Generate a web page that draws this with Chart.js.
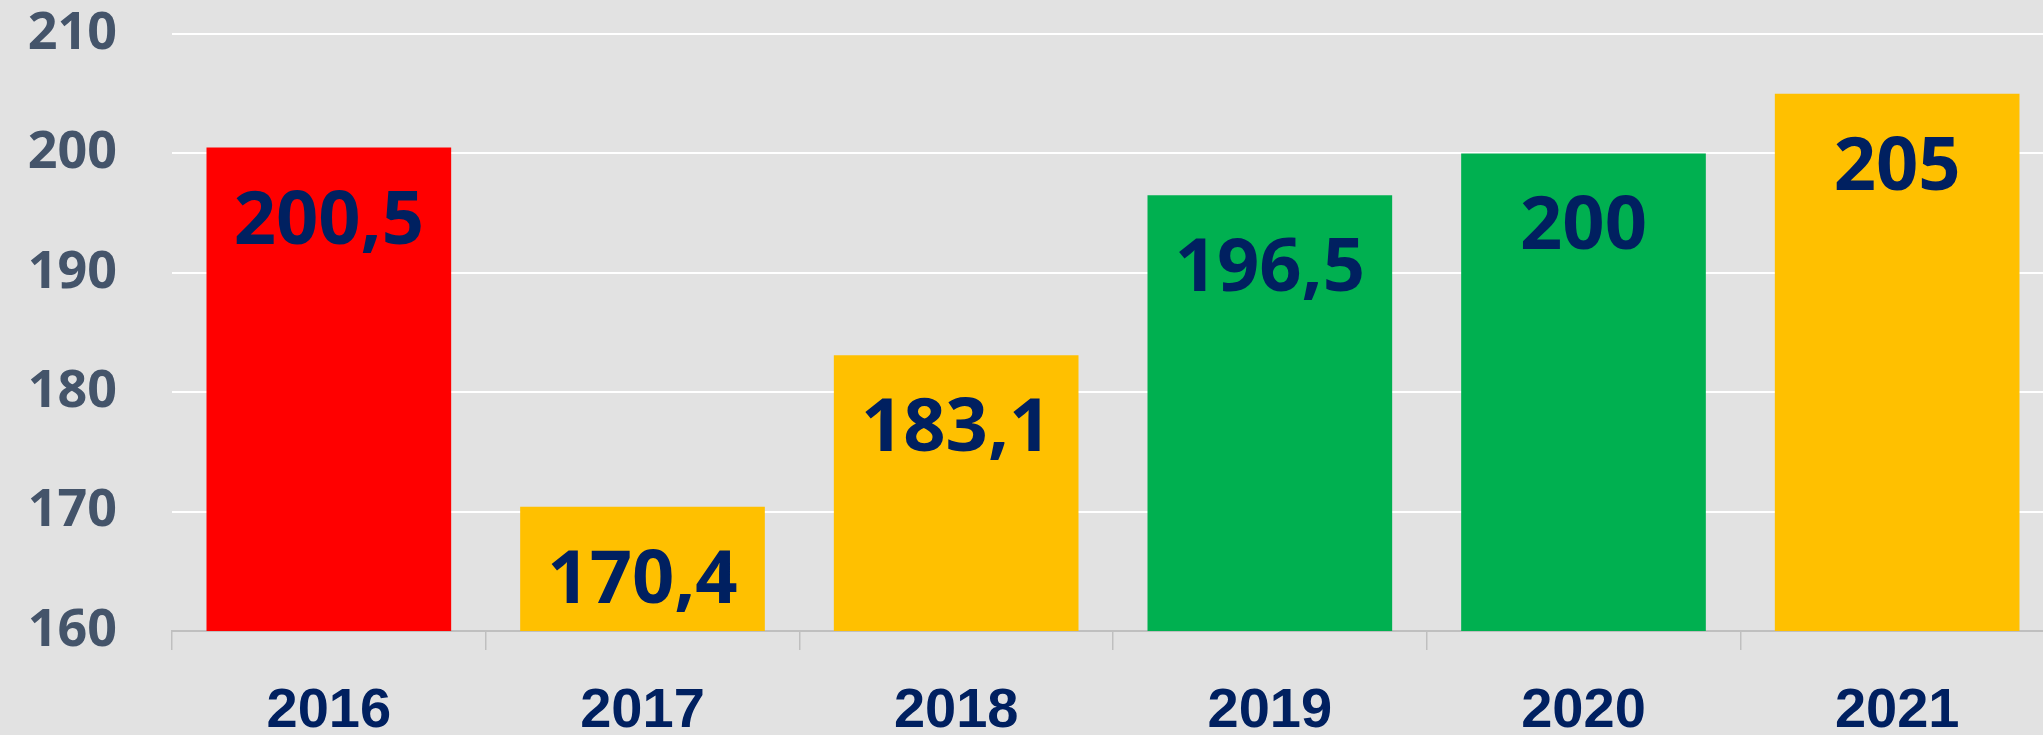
<!DOCTYPE html>
<html>
<head>
<meta charset="utf-8">
<script src="https://cdn.jsdelivr.net/npm/chart.js@4"></script>
<style>
  html, body { margin: 0; padding: 0; background: #e2e2e2; overflow: hidden; }
  canvas { display: block; }
</style>
</head>
<body>
<!-- canvas a bit wider than the window: the last category is cut at the right edge like in the picture -->
<canvas id="myChart" width="2054" height="735"></canvas>
<script>
const years = ['2016', '2017', '2018', '2019', '2020', '2021'];
const values = [200.5, 170.4, 183.1, 196.5, 200, 205];
const barColors = ['#ff0000', '#ffc000', '#ffc000', '#00b050', '#00b050', '#ffc000'];
const yTicks = [160, 170, 180, 190, 200, 210];

// grey page background on the canvas itself
const background = {
  id: 'background',
  beforeDraw(chart) {
    const c = chart.ctx;
    c.save();
    c.fillStyle = '#e2e2e2';
    c.fillRect(0, 0, chart.width, chart.height);
    c.restore();
  }
};

// value labels inside the top of each bar
const barLabels = {
  id: 'barLabels',
  afterDatasetsDraw(chart) {
    const c = chart.ctx;
    const meta = chart.getDatasetMeta(0);
    c.save();
    c.font = 'bold 74px "Open Sans"';
    c.fillStyle = '#002060';
    c.textAlign = 'center';
    c.textBaseline = 'middle';
    meta.data.forEach((bar, i) => {
      const txt = String(values[i]).replace('.', ',');
      c.fillText(txt, bar.x, bar.y + 75);
    });
    c.restore();
  }
};

const ctx = document.getElementById('myChart').getContext('2d');
const myChart = new Chart(ctx, {
  type: 'bar',
  data: {
    labels: years,
    datasets: [{
      data: values,
      backgroundColor: barColors,
      borderWidth: 0,
      categoryPercentage: 1,
      barPercentage: 0.78
    }]
  },
  options: {
    responsive: false,
    animation: false,
    layout: { padding: { top: 34, right: 0, left: 0, bottom: 0 } },
    plugins: {
      legend: { display: false },
      tooltip: { enabled: false }
    },
    scales: {
      x: {
        grid: {
          drawOnChartArea: false,
          color: '#bfbfbf',
          lineWidth: 1.5,
          tickLength: 19
        },
        border: { display: true, color: '#bfbfbf', width: 2 },
        ticks: {
          color: '#002060',
          font: { family: '"Liberation Sans", Arial', weight: 'bold', size: 56 },
          padding: 28
        },
        afterFit(scale) { scale.height = 104; }
      },
      y: {
        min: 160,
        max: 210,
        afterBuildTicks(scale) { scale.ticks = yTicks.map(v => ({ value: v })); },
        // invisible tick marks give the gap between labels and plot
        grid: { color: '#ffffff', lineWidth: 2, drawTicks: true, tickLength: 55, tickColor: 'rgba(0,0,0,0)' },
        border: { display: false },
        ticks: {
          color: '#44546a',
          font: { family: '"Open Sans"', weight: 'bold', size: 52 },
          padding: 0
        },
        afterFit(scale) { scale.width = 172; }
      }
    }
  },
  plugins: [background, barLabels]
});
</script>
</body>
</html>
